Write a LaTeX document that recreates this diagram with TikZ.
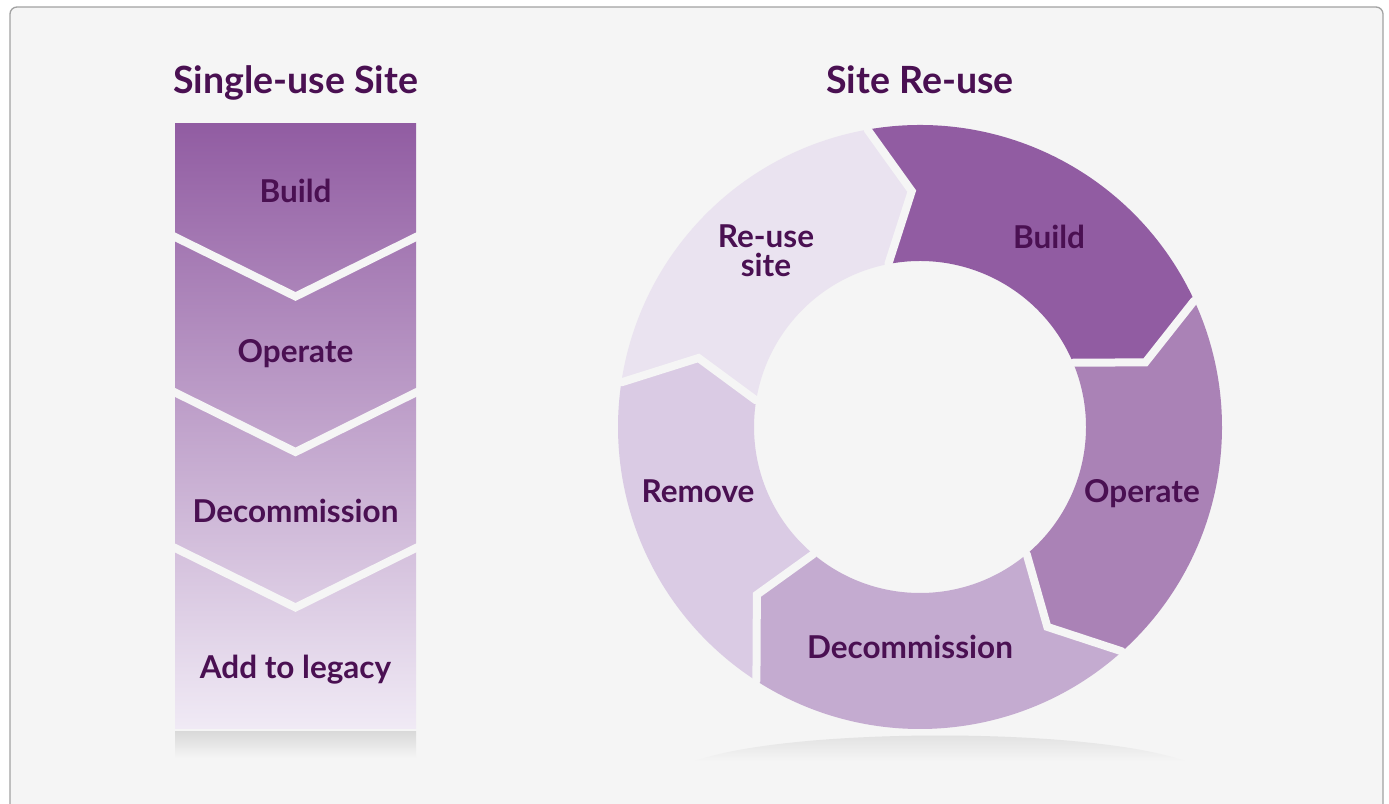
\documentclass[tikz,border=0pt]{standalone}
\usepackage{fontspec}
\setmainfont{Lato}
\definecolor{bgcol}{HTML}{F5F5F5}
\definecolor{framecol}{HTML}{A2A2A2}
\definecolor{txtcol}{HTML}{4A1052}
\definecolor{buildcol}{HTML}{915CA2}
\definecolor{operatecol}{HTML}{AA82B6}
\definecolor{decomcol}{HTML}{C4ABD0}
\definecolor{removecol}{HTML}{DACBE4}
\definecolor{reusecol}{HTML}{EAE3F0}
\definecolor{colmid}{HTML}{B898C6}
\definecolor{colbot}{HTML}{F0EAF5}

\begin{document}
\begin{tikzpicture}[x=1pt,y=1pt]
\tikzstyle{every node}+=[inner sep=0pt]
\tikzstyle{lbl}=[text=txtcol, anchor=base, align=center, font=\bfseries\fontsize{31.5}{29}\selectfont]
\tikzstyle{ttl}=[text=txtcol, anchor=base, font=\bfseries\fontsize{37.5}{40}\selectfont]
\tikzstyle{gap}=[draw=bgcol, line width=8pt, line cap=round, line join=miter]
\useasboundingbox (0,0) rectangle (1389,-803);
\fill [white] (0,0) rectangle (1389,-803);
\draw [framecol, fill=bgcol, line width=1.3pt, rounded corners=7pt] (10,-7) rectangle (1383,-830);
\node [ttl] (ttlsingle) at (295.5,-93) {Single-use Site};
\node [ttl] (ttlreuse) at (920,-93) {Site Re-use};
\shade [top color=black!15, bottom color=bgcol] (175,-731) rectangle (416,-758);
\shade [top color=buildcol, middle color=colmid, bottom color=colbot] (175,-123) rectangle (416,-728);
\draw [gap, line cap=butt] (168,-233.5) -- (295.5,-296.5) -- (423,-233.5);
\draw [gap, line cap=butt] (168,-389) -- (295.5,-452) -- (423,-389);
\draw [gap, line cap=butt] (168,-544.5) -- (295.5,-607.5) -- (423,-544.5);
\node [lbl] (colbuild) at (295.5,-202) {Build};
\node [lbl] (coloperate) at (295.5,-362) {Operate};
\node [lbl] (coldecom) at (295.5,-522) {Decommission};
\node [lbl] (collegacy) at (295.5,-678) {Add to legacy};
\shade [top color=black!14, bottom color=bgcol] (695,-761) .. controls (790,-727) and (1090,-727) .. (1185,-761) -- cycle;
\begin{scope}[shift={(920,-427)}]
\fill [buildcol] (100:302) arc (100:24.75:302) -- (16:234.5) -- (22.8:166) arc (22.8:101:166) -- (92:236) -- cycle;
\fill [operatecol] (24.75:302) arc (24.75:-48:302) -- (-57.5:237) -- (-50:166) arc (-50:22.8:166) -- (16:234.5) -- cycle;
\fill [decomcol] (-48:302) arc (-48:-122.8:302) -- (-134.2:234) -- (-130:166) arc (-130:-50:166) -- (-57.5:237) -- cycle;
\fill [removecol] (-122.8:302) arc (-122.8:-188.5:302) -- (-197.3:232) -- (-189.2:166) arc (-189.2:-130:166) -- (-134.2:234) -- cycle;
\fill [reusecol] (171.5:302) arc (171.5:100:302) -- (92:236) -- (101:166) arc (101:170.8:166) -- (162.7:232) -- cycle;
\draw [gap] (100:302) -- (92:236) -- (101:166);
\draw [gap] (24.75:302) -- (16:234.5) -- (22.8:166);
\draw [gap] (-48:302) -- (-57.5:237) -- (-50:166);
\draw [gap] (-122.8:302) -- (-134.2:234) -- (-130:166);
\draw [gap] (171.5:302) -- (162.7:232) -- (170.8:166);
\end{scope}
\node [lbl] (ringbuild) at (1049,-248) {Build};
\node [lbl] (ringoperate) at (1142,-502) {Operate};
\node [lbl] (ringdecom) at (910,-658) {Decommission};
\node [lbl] (ringremove) at (698,-502) {Remove};
\node [lbl] (ringreuse) at (766,-276) {Re-use\\site};
\end{tikzpicture}
\end{document}
